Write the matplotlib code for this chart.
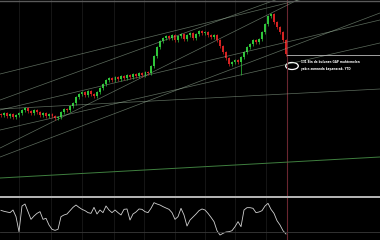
import matplotlib
matplotlib.use("Agg")
import matplotlib.pyplot as plt
from matplotlib.patches import Ellipse
from matplotlib.lines import Line2D
import numpy as np

# kapanış değerleri (bar başına)
kapanis = [85, 87, 84, 86, 83, 85, 87, 90, 92, 89, 87, 90, 88, 85, 87, 84, 86, 84, 82, 83,
           88, 91, 90, 94, 97, 103, 106, 108, 105, 109, 106, 104, 108, 112, 116, 120, 122, 120, 123, 121,
           124, 122, 125, 123, 126, 124, 127, 125, 128, 127, 134, 144, 153, 159, 162, 164, 162, 165, 160, 164,
           166, 161, 165, 167, 162, 166, 169, 167, 168, 165, 163, 165, 160, 154, 148, 142, 136, 138, 140, 138,
           143, 148, 153, 156, 160, 158, 161, 168, 176, 184, 186, 178, 173, 168, 160, 146]
ilk_acilis = 86
ozel_dip = {80: 125}

# RSI benzeri osilatör
rsi = [64.4, 62.8, 61.7, 60.6, 65.0, 53.9, 28.9, 71.7, 75.0, 62.2, 49.4, 55.0, 59.4, 62.2, 49.4, 51.1,
       40.0, 32.8, 31.1, 32.8, 53.9, 56.7, 58.3, 63.9, 69.4, 73.3, 69.4, 66.1, 63.9, 60.6, 59.4, 69.4,
       58.3, 65.0, 60.6, 71.7, 65.0, 60.6, 65.0, 60.6, 56.7, 66.1, 66.7, 48.3, 58.3, 61.7, 66.7, 66.1,
       62.2, 60.6, 67.8, 77.2, 75.0, 73.3, 70.6, 68.3, 66.1, 60.6, 49.4, 53.9, 67.8, 56.7, 38.3, 48.3,
       53.3, 58.3, 63.9, 66.7, 65.0, 59.4, 52.8, 45.6, 30.5, 23.3, 26.1, 28.3, 28.9, 30.5, 37.2, 45.6,
       37.2, 65.0, 68.9, 68.9, 67.8, 60.6, 61.7, 63.9, 71.7, 76.1, 66.1, 59.4, 47.2, 40.0, 30.5, 25.0]

# trend çizgileri: (bar1, fiyat1, bar2, fiyat2)
trendler = [(-0.3, 126, 126.3, 220),
            (-0.3, 100, 126.3, 238),
            (-0.3, 91, 126.3, 111),
            (-0.3, 90, 126.3, 180),
            (-0.3, 70, 126.3, 157),
            (-0.3, 52, 126.3, 241),
            (-0.3, 43, 126.3, 187)]
alt_trend = (-0.3, 22, 126.3, 43)
gap_seviye = 145
not_metni = "131 Bin de bulunan GAP muhtemelen\nyakın zamanda kapanacak. YTD"

n = len(kapanis)
x = np.arange(n)
acilis = [ilk_acilis] + kapanis[:-1]

fig = plt.figure(figsize=(3.8, 2.4), dpi=100, facecolor="black")
ax = fig.add_axes([0, 44 / 240, 1, 196 / 240])
ax2 = fig.add_axes([0, 0, 1, 42 / 240])
for a in (ax, ax2):
    a.set_facecolor("black")
    a.set_xlim(-1 / 3, 126.33)
    for s in a.spines.values():
        s.set_visible(False)
    a.set_xticks([6, 16.5, 27, 37.5, 47.5, 58, 68, 78, 88.3])
    a.grid(axis="x", color="#1a1a1a", lw=0.6)
    a.tick_params(length=0, labelbottom=False, labelleft=False)
    a.set_yticks([])
    a.axvline(95.2, color="#6a2630", lw=0.8)

ax.set_ylim(4, 200)
ax2.set_ylim(15, 85)

# trend çizgileri
for x1, y1, x2, y2 in trendler:
    ax.plot([x1, x2], [y1, y2], color="#a9c4a9", lw=0.5, alpha=0.55)
ax.plot([alt_trend[0], alt_trend[2]], [alt_trend[1], alt_trend[3]], color="#3f7f3f", lw=0.7)

# mumlar
for i in range(n):
    o, c = acilis[i], kapanis[i]
    renk = "#2fc43a" if c >= o else "#d42222"
    hi = max(o, c) + 1.5
    lo = ozel_dip.get(i, min(o, c) - 1.5)
    ax.vlines(i, lo, hi, color=renk, lw=0.5)
    ax.bar(i, max(abs(c - o), 0.8), bottom=min(o, c), width=0.5, color=renk, lw=0)

# gap çizgisi ve not
ax.plot([95.3, 126.3], [gap_seviye, gap_seviye], color="#bbbbbb", lw=0.6)
ax.add_patch(Ellipse((97, 134), 4.2, 7, fill=False, ec="white", lw=0.9))
ax.text(100, 134.5, not_metni, color="white", fontsize=2.0, va="center", ha="left",
        linespacing=2.1, weight="bold")

# osilatör
ax2.plot(x, rsi, color="#d0d0d0", lw=0.6)
ax2.axhline(28.5, color="#3a3a3a", lw=0.6)

# ayırıcı ve üst kenar
fig.add_artist(Line2D([0, 1], [1 - 197 / 240] * 2, color="#b8b8b8", lw=1.4))
fig.add_artist(Line2D([0, 1], [1 - 0.5 / 240] * 2, color="#5a5a5a", lw=1.0))

fig.savefig("out.png", dpi=100, facecolor="black")
